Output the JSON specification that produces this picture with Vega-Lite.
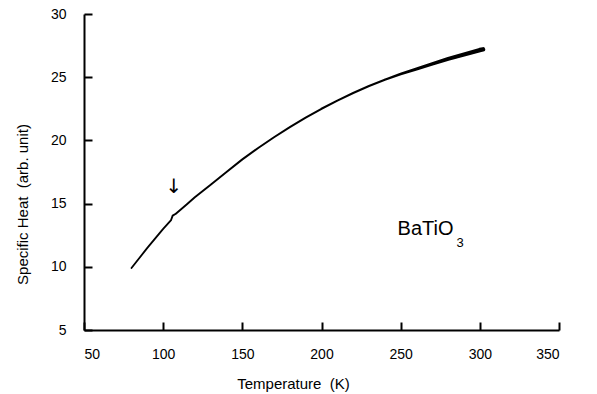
{
  "$schema": "https://vega.github.io/schema/vega-lite/v6.json",
  "width": 475,
  "height": 316,
  "autosize": {"type": "none"},
  "padding": {"left": 84, "top": 14, "right": 38, "bottom": 64},
  "background": "white",
  "config": {
    "view": {"stroke": null},
    "font": "Liberation Sans",
    "axis": {
      "grid": false,
      "domainColor": "black",
      "domainWidth": 2,
      "tickColor": "black",
      "tickWidth": 2,
      "tickSize": -8,
      "labelFont": "Liberation Sans",
      "labelFontSize": 14,
      "labelColor": "black",
      "titleFont": "Liberation Sans",
      "titleFontSize": 15,
      "titleFontWeight": "normal",
      "titleColor": "black"
    }
  },
  "datasets": {
    "curve": [
      {"T": 80, "C": 9.9},
      {"T": 90, "C": 11.5},
      {"T": 100, "C": 13.0},
      {"T": 105, "C": 13.7},
      {"T": 106, "C": 14.05},
      {"T": 108, "C": 14.2},
      {"T": 115, "C": 14.95},
      {"T": 120, "C": 15.5},
      {"T": 130, "C": 16.5},
      {"T": 140, "C": 17.5},
      {"T": 150, "C": 18.5},
      {"T": 160, "C": 19.4},
      {"T": 170, "C": 20.25},
      {"T": 180, "C": 21.05},
      {"T": 190, "C": 21.8},
      {"T": 200, "C": 22.5},
      {"T": 210, "C": 23.15},
      {"T": 220, "C": 23.75},
      {"T": 230, "C": 24.3},
      {"T": 240, "C": 24.8},
      {"T": 250, "C": 25.25},
      {"T": 260, "C": 25.65},
      {"T": 270, "C": 26.05},
      {"T": 280, "C": 26.45},
      {"T": 290, "C": 26.8},
      {"T": 300, "C": 27.15},
      {"T": 302, "C": 27.2}
    ],
    "labels": [
      {"T": 265.7, "C": 13.0, "txt": "BaTiO", "size": 20},
      {"T": 287.5, "C": 11.9, "txt": "3", "size": 13}
    ],
    "arrow": [
      {"T": 106.8, "C": 16.35, "txt": "↓"}
    ]
  },
  "layer": [
    {
      "data": {"name": "curve"},
      "mark": {"type": "trail", "color": "black"},
      "encoding": {
        "x": {
          "field": "T", "type": "quantitative",
          "scale": {"domain": [50, 350], "nice": false, "zero": false},
          "axis": {"values": [50, 100, 150, 200, 250, 300, 350], "title": "Temperature \u00a0(K)",
                   "labelPadding": 25, "titleX": 209, "titleY": 53, "titleBaseline": "middle"}
        },
        "y": {
          "field": "C", "type": "quantitative",
          "scale": {"domain": [5, 30], "nice": false, "zero": false},
          "axis": {"values": [5, 10, 15, 20, 25, 30], "title": "Specific Heat \u00a0(arb. unit)",
                   "labelPadding": 26, "titleX": -62, "titleY": 190, "titleBaseline": "middle", "titleAngle": -90}
        },
        "size": {"field": "T", "type": "quantitative", "legend": null,
                 "scale": {"domain": [80, 240, 302], "range": [1.8, 2.2, 4.5]}}
      }
    },
    {
      "data": {"name": "labels"},
      "mark": {"type": "text", "color": "black", "font": "Liberation Sans", "align": "center", "baseline": "middle"},
      "encoding": {
        "x": {"field": "T", "type": "quantitative"},
        "y": {"field": "C", "type": "quantitative"},
        "text": {"field": "txt"},
        "size": {"field": "size", "type": "quantitative", "scale": null}
      }
    },
    {
      "data": {"name": "arrow"},
      "mark": {"type": "text", "color": "black", "font": "DejaVu Sans", "fontSize": 20, "align": "center", "baseline": "middle"},
      "encoding": {
        "x": {"field": "T", "type": "quantitative"},
        "y": {"field": "C", "type": "quantitative"},
        "text": {"field": "txt"}
      }
    }
  ]
}
